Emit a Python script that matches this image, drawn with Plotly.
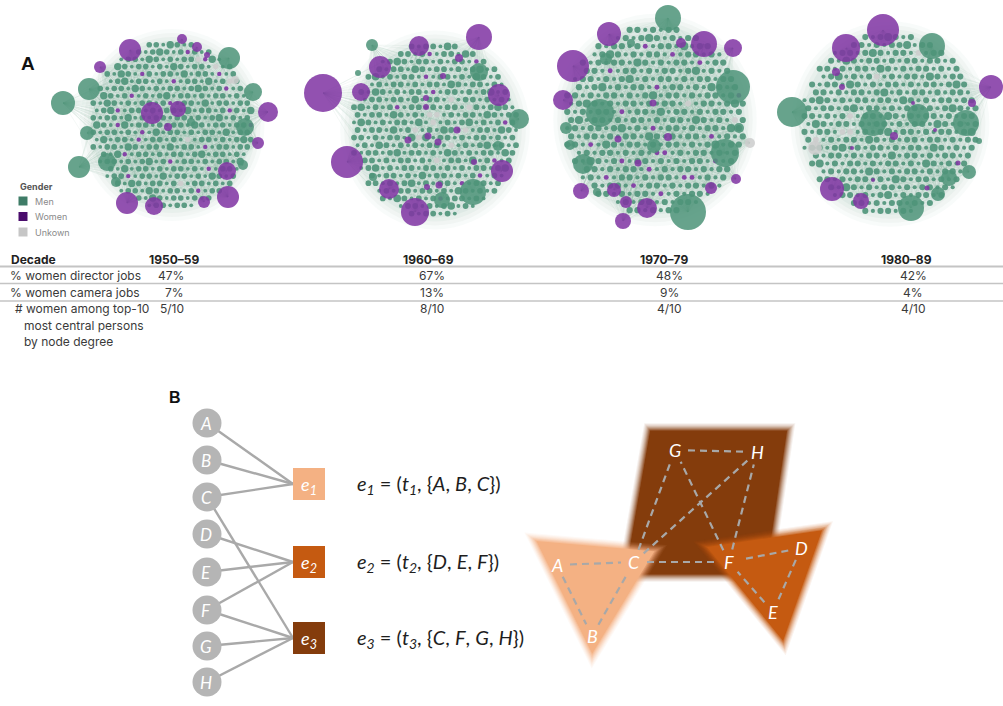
import math
import plotly.graph_objects as go

W, H = 1003, 706

# ---------------------------------------------------------------- table data
decades = ["1950–59", "1960–69", "1970–79", "1980–89"]
women_director_pct = [47, 67, 48, 42]
women_camera_pct = [7, 13, 9, 4]
women_top10 = [5, 8, 4, 4]

# ---------------------------------------------------------------- networks
# dense core of each decade network, one string per row of the packed layout
# o = man, O = man (higher degree), * = man (low degree), p/P = woman, u = unknown
core_1950 = [
    "oo*Oo*o",
    "o*oOo*opo*o",
    "*oo*Oo*o*ooupO*",
    "Oo*oo*o*Oo*oo*u*o",
    "o*Oo*po*oo*O*oo*p*o",
    "*oO*oo*o*p*oo*O*ouo",
    "o*oo*Oo*o*oo*oOo*op*o",
    "Oo*op*o*oO*oo*o*oo*o*",
    "o*Oo*o*oo*op*oo*O*oo*oo",
    "*oOp*oo*o*oo*O*oo*opo*O",
    "o*oo*O*o*oo*oo*o*oO*o*o",
    "Oo*pO*oo*o*oo*Oo*oo*oop",
    "o*oo*o*p*O*oo*o*oo*O*oo",
    "*O*oo*p*oo*o*u*oo*o*oOo",
    "o*oo*Oo*oo*O*oo*p*oo*oo",
    "o*Op*oo*o*oo*oO*oo*o*",
    "*oo*o*oO*op*oo*o*oo*O",
    "o*O*oo*o*oo*o*p*oo*",
    "*oop*oo*O*oo*o*Oo*o",
    "o*Oo*oo*ou*oo*o*o",
    "*oo*Oo*oo*op*oo",
    "o*Oo*oo*o*o",
    "*oo*oo*",
]
core_1960 = [
    "o*oo*Oo",
    "oo*op*oo*Oo",
    "*oOo*oo*o*oo*po",
    "o*oo*Oo*oo*o*oO*o",
    "oO*o*oo*p*oo*o*Oo*o",
    "*o*oo*o*oo*Oo*oo*o*",
    "o*Oo*o*oo*p*oo*o*oO*o",
    "*oo*oo*O*oo*u*oo*o*o*",
    "oO*o*op*oo*o*oo*uo*oOo*",
    "o*oo*Oo*o*uu*o*oo*Oo*oo",
    "*Oo*o*oo*O*u*o*oO*o*opo",
    "o*oo*O*ou*o*Oo*u*oo*Oo*",
    "oo*o*oo*OuO*oo*o*oo*o*o",
    "*o*Oo*o*o*oo*u*o*oO*o*o",
    "o*oo*oO*oo*o*Oo*o*oo*Oo",
    "oo*o*oo*o*u*oo*O*op*o",
    "*oO*o*oo*oo*o*o*oo*oO",
    "o*oo*o*O*oo*o*op*o*",
    "oo*o*oO*o*oo*p*oo*o",
    "*o*oo*oo*o*Oo*o*o",
    "o*Oo*o*op*oo*o*",
    "*oo*o*oO*o*",
    "o*oo*o*",
]
core_1970 = [
    "oo*o*oo",
    "*o*oOo*o*oo",
    "o*oo*op*oo*O*oo",
    "*oOo*o*oo*p*oo*o*",
    "o*o*oo*Oo*o*oo*p*oo",
    "oo*p*oo*o*oo*oO*o*o",
    "*oo*o*oO*o*oo*o*oo*oo",
    "o*oO*o*oo*p*oo*o*Oo*o",
    "oo*o*oo*o*oO*oo*o*oo*op",
    "*oOo*o*oo*o*oo*u*oo*oOo",
    "o*o*oo*p*oo*O*oo*o*oo*o",
    "oO*oo*o*oo*o*oo*Oo*o*uo",
    "*o*oo*oO*o*p*oo*o*oo*Oo",
    "o*oo*o*oo*Oo*o*oo*p*o*o",
    "oo*p*Oo*oo*o*oo*o*oO*oo",
    "*o*oo*o*o*pp*o*oo*o*o",
    "o*Oo*op*oo*o*o*oo*p*o",
    "oo*o*oo*p*o*oo*o*oo",
    "*o*p*oo*o*oo*pp*o*o",
    "o*oo*p*oo*o*oo*o*",
    "oo*o*oo*p*o*oo*",
    "*o*oo*o*oo*",
    "oo*o*oo",
]
core_1980 = [
    "o*oOo*o",
    "oo*o*ooO*oo",
    "*oo*oOo*oo*u*oo",
    "o*Oo*oo*o*oo*oo*o",
    "oo*o*oo*Oo*o*oo*o*o",
    "*oO*o*ou*o*oo*Oo*oo",
    "o*oo*Oo*o*oo*o*oo*oOo",
    "oo*o*oo*oO*o*oo*o*oo*",
    "*oOo*o*oo*oo*Oo*o*oo*oo",
    "o*oo*oO*oo*o*oo*o*oOo*o",
    "oo*o*ou*oo*Oo*o*oo*o*oo",
    "*Oo*oo*o*oo*o*oo*Oo*o*o",
    "o*oo*uu*o*oO*oo*o*oo*oO",
    "ou*o*oo*Oo*o*oo*oo*o*oo",
    "*oo*oO*o*oo*o*oo*Oo*o*o",
    "o*oo*o*oo*O*oo*o*oo*o",
    "oO*o*oo*o*oo*o*Oo*o*o",
    "*o*oo*Oo*o*oo*o*oo*",
    "oo*o*oo*o*Oo*oo*o*o",
    "o*Oo*o*oo*o*oo*o*",
    "*oo*o*oO*o*oo*o",
    "oo*o*oo*o*o",
    "o*oo*o*",
]

# high-degree persons: (x, y, radius, gender)
hubs_1950 = [
    (130, 50, 11, "W"), (100, 67, 6, "W"), (182, 39, 5, "W"), (197, 47, 5, "W"),
    (207, 55, 3, "W"), (229, 58, 11, "M"), (235, 80, 4, "U"), (253, 92, 9, "M"),
    (268, 112, 10, "W"), (245, 127, 9, "M"), (258, 143, 6, "W"), (243, 165, 5, "M"),
    (227, 171, 9, "W"), (228, 197, 11, "W"), (204, 202, 6, "W"), (154, 206, 9, "W"),
    (127, 203, 11, "W"), (116, 182, 5, "M"), (107, 162, 9, "M"), (79, 167, 11, "M"),
    (87, 133, 7, "M"), (63, 103, 12, "M"), (89, 89, 11, "M"), (152, 113, 11, "W"),
    (178, 109, 8, "W"), (168, 127, 4, "W"), (191, 122, 4, "M"),
]
hubs_1960 = [
    (323, 93, 19, "W"), (361, 92, 9, "W"), (380, 67, 11, "W"), (372, 45, 6, "M"),
    (419, 46, 10, "W"), (479, 37, 13, "W"), (459, 58, 4, "W"), (479, 72, 9, "M"),
    (358, 73, 3, "M"), (499, 95, 11, "W"), (519, 119, 10, "M"), (347, 162, 16, "W"),
    (502, 171, 11, "W"), (473, 192, 13, "M"), (389, 189, 10, "W"), (442, 200, 8, "M"),
    (415, 212, 14, "W"), (498, 146, 5, "M"), (373, 177, 4, "M"),
    (408, 140, 3.5, "W"), (428, 136, 3.5, "W"), (438, 142, 3.5, "W"), (457, 130, 3.5, "W"),
    (426, 98, 3, "W"), (426, 107, 3, "W"), (443, 76, 3, "W"), (474, 162, 3, "W"),
    (439, 185, 3.5, "W"), (427, 187, 3, "W"),
]
hubs_1970 = [
    (668, 18, 13, "M"), (609, 34, 12, "W"), (573, 66, 16, "W"), (681, 43, 5, "W"),
    (704, 44, 13, "W"), (733, 48, 9, "W"), (733, 87, 17, "M"), (563, 100, 10, "W"),
    (600, 113, 14, "M"), (606, 59, 6, "M"), (631, 43, 4, "M"), (725, 153, 14, "M"),
    (750, 143, 5, "U"), (739, 128, 5, "M"), (566, 128, 6, "M"), (570, 145, 5, "M"),
    (583, 164, 10, "M"), (654, 146, 7, "M"), (653, 103, 3.5, "W"), (668, 137, 4, "W"),
    (618, 139, 3.5, "W"), (638, 163, 3.5, "W"), (581, 191, 8, "W"), (597, 192, 4, "M"),
    (614, 190, 7, "W"), (626, 202, 6, "W"), (647, 208, 10, "W"), (623, 221, 8, "W"),
    (688, 212, 18, "M"), (711, 188, 6, "W"), (736, 179, 5, "W"),
]
hubs_1980 = [
    (883, 30, 16, "W"), (846, 48, 14, "W"), (932, 46, 13, "M"), (991, 87, 12, "W"),
    (792, 112, 15, "M"), (873, 123, 13, "M"), (918, 115, 11, "M"), (966, 123, 13, "M"),
    (894, 136, 4, "W"), (836, 72, 4, "W"), (842, 87, 3, "W"), (972, 103, 4, "W"),
    (815, 148, 7, "U"), (979, 141, 3, "M"), (949, 178, 8, "M"), (969, 172, 7, "M"),
    (832, 189, 12, "W"), (861, 201, 8, "W"), (911, 208, 13, "M"), (938, 194, 7, "M"),
    (958, 163, 2.5, "W"), (927, 188, 2.5, "W"), (935, 130, 2, "W"), (852, 148, 2, "W"),
    (873, 180, 2, "W"), (913, 103, 2, "W"),
]

# (core rows, hubs, core centre x, centre y, column step, row step)
networks = [
    (core_1950, hubs_1950, 172, 125, 7.0, 7.3),
    (core_1960, hubs_1960, 435, 130, 7.2, 7.6),
    (core_1970, hubs_1970, 655, 120, 7.8, 8.2),
    (core_1980, hubs_1980, 890, 124, 7.6, 7.9),
]

# ---------------------------------------------------------------- hypergraph data
persons = ["A", "B", "C", "D", "E", "F", "G", "H"]
hyperedges = ["e1", "e2", "e3"]
members = {"e1": ["A", "B", "C"], "e2": ["D", "E", "F"], "e3": ["C", "F", "G", "H"]}
edge_times = {"e1": "t1", "e2": "t2", "e3": "t3"}

# ---------------------------------------------------------------- styles
GREEN = "rgba(78,148,121,{})"
PURPLE = "rgba(128,52,163,{})"
GREY = "rgba(205,205,205,{})"
GCOL = {"M": GREEN, "W": PURPLE, "U": GREY}
CORE_STYLE = {
    "o": ("M", 5.6), "O": ("M", 7.4), "*": ("M", 3.8),
    "p": ("W", 4.4), "P": ("W", 6.2), "u": ("U", 5.4),
}
EDGE_COLORS = {"e1": "#F4B183", "e2": "#C55A11", "e3": "#843C0C"}
TXT = "#3a3a3a"

fig = go.Figure()
shapes = []
annotations = []


def ann(x, y, text, size=12, color=TXT, family="Inter", xanchor="center", bold=False, **kw):
    if bold:
        text = f"<b>{text}</b>"
    annotations.append(dict(x=x, y=y, xref="x", yref="y", text=text, showarrow=False,
                            xanchor=xanchor, yanchor="middle",
                            font=dict(size=size, color=color, family=family), **kw))


# ---------------------------------------------------------------- panel A networks
for rows, hubs, cx, cy, dx, dy in networks:
    scale = dx / 7.0
    # edge haze behind the dense core
    rx, ry = 11.5 * dx, 11.5 * dy
    for grow, alpha in [(12, 0.12), (8, 0.15), (4, 0.2), (0, 0.3)]:
        shapes.append(dict(type="circle", xref="x", yref="y", layer="below",
                           x0=cx - rx - grow, x1=cx + rx + grow,
                           y0=cy - ry - grow, y1=cy + ry + grow,
                           fillcolor=f"rgba(200,218,211,{alpha})", line=dict(width=0)))

    pts = []
    n = len(rows)
    for i, row in enumerate(rows):
        y = cy + (i - (n - 1) / 2) * dy
        shift = dx / 4 if i % 2 else -dx / 4
        for j, ch in enumerate(row):
            if ch not in CORE_STYLE:
                continue
            x = cx + (j - (len(row) - 1) / 2) * dx + shift
            g, s = CORE_STYLE[ch]
            pts.append((x, y, g, s * scale))

    # links from high-degree persons into the core
    ex, ey = [], []
    for k, (hx, hy, hr, hg) in enumerate(hubs):
        if hr < 5:
            continue
        for j, (px, py, _, _) in enumerate(pts):
            if (j + 4 * k) % 9 == 0:
                ex += [hx, px, None]
                ey += [hy, py, None]
    fig.add_trace(go.Scatter(x=ex, y=ey, mode="lines", hoverinfo="skip",
                             line=dict(color="rgba(105,155,135,0.13)", width=0.6)))

    fig.add_trace(go.Scatter(
        x=[p[0] for p in pts], y=[p[1] for p in pts], mode="markers", hoverinfo="skip",
        marker=dict(size=[p[3] for p in pts], opacity=1,
                    color=[GCOL[p[2]].format(0.9) for p in pts], line=dict(width=0))))

    hs = sorted(hubs, key=lambda h: -h[2])
    fig.add_trace(go.Scatter(
        x=[h[0] for h in hs], y=[h[1] for h in hs], mode="markers", hoverinfo="skip",
        marker=dict(size=[2 * h[2] for h in hs], opacity=1,
                    color=[GCOL[h[3]].format(0.86) for h in hs], line=dict(width=0))))

# panel label and gender key
ann(28, 63, "A", size=19, color="#111", family="Arial", bold=True)
ann(18, 186, "Gender", size=9, color="#555", family="Inter", xanchor="left", bold=True)
key = [("Men", "#3f7c67", 201), ("Women", "#4a0c6c", 216.5), ("Unkown", "#c6c6c6", 232)]
fig.add_trace(go.Scatter(x=[23] * 3, y=[k[2] for k in key], mode="markers", hoverinfo="skip",
                         marker=dict(symbol="square", size=9, color=[k[1] for k in key],
                                     opacity=1, line=dict(width=0))))
for name, _, ky in key:
    ann(33, ky, name, size=9, color="#8a8a8a", family="Inter", xanchor="left")

# ---------------------------------------------------------------- table
col_x = [174, 428, 664, 906]
val_x = [186, 432, 669, 913]
ann(9, 259, "Decade", size=12, color="#222", xanchor="left", bold=True)
for cxx, d in zip(col_x, decades):
    ann(cxx, 259, d, size=12, color="#222", bold=True)

row_labels = ["% women director jobs", "% women camera jobs"]
row_vals = [[f"{v}%" for v in women_director_pct], [f"{v}%" for v in women_camera_pct]]
for ry_, lab, vals in zip([275, 292], row_labels, row_vals):
    ann(8, ry_, lab, size=12, xanchor="left")
    for k, (vx, v) in enumerate(zip(val_x, vals)):
        ann(vx, ry_, v, size=12, xanchor="right" if k == 0 else "center")
ann(13, 308, "# women among top-10", size=12, xanchor="left")
ann(22, 325, "most central persons", size=12, xanchor="left")
ann(22, 341, "by node degree", size=12, xanchor="left")
for k, (vx, v) in enumerate(zip(val_x, women_top10)):
    ann(vx, 308, f"{v}/10", size=12, xanchor="right" if k == 0 else "center")

for ly, lw in [(266.5, 2.2), (283.5, 1.4), (301, 1.4)]:
    shapes.append(dict(type="line", xref="x", yref="y", x0=0, x1=W, y0=ly, y1=ly,
                       line=dict(color="#c4c4c4", width=lw)))

# ---------------------------------------------------------------- panel B: bipartite view
ann(175, 397, "B", size=16, color="#111", family="Arial", bold=True)
person_y = dict(zip(persons, [423, 460, 497, 534, 572, 610, 646, 682]))
edge_y = dict(zip(hyperedges, [484, 562, 638]))
PX, EX, ES = 207, 309, 32

bx, by = [], []
for e in hyperedges:
    for p in members[e]:
        bx += [PX, EX - ES / 2, None]
        by += [person_y[p], edge_y[e], None]
fig.add_trace(go.Scatter(x=bx, y=by, mode="lines", hoverinfo="skip",
                         line=dict(color="#a9a9a9", width=2.4)))
fig.add_trace(go.Scatter(
    x=[PX] * len(persons), y=[person_y[p] for p in persons], mode="markers",
    hoverinfo="skip", marker=dict(size=29, color="#b5b5b5", opacity=1, line=dict(width=0))))
for p in persons:
    ann(PX - 1, person_y[p], f"<i>{p}</i>", size=17, color="white", family="Lato")
fig.add_trace(go.Scatter(
    x=[EX] * 3, y=[edge_y[e] for e in hyperedges], mode="markers", hoverinfo="skip",
    marker=dict(symbol="square", size=ES, color=[EDGE_COLORS[e] for e in hyperedges],
                opacity=1, line=dict(width=0))))
for e in hyperedges:
    ann(EX, edge_y[e] + 1, f"<i>e<sub>{e[1]}</sub></i>", size=18, color="white", family="Lato")
    who = ", ".join(f"<i>{p}</i>" for p in members[e])
    t = edge_times[e]
    ann(355, edge_y[e], f"<i>e<sub>{e[1]}</sub></i> = (<i>t<sub>{t[1]}</sub></i>, {{{who}}})",
        size=20, color="#1e1e1e", family="Lato", xanchor="left")

# ---------------------------------------------------------------- panel B: hypergraph view
hyper_shapes = {
    "e3": [(648, 428), (790, 428), (768, 577), (622, 577)],
    "e1": [(532, 538), (659, 549), (592, 659)],
    "e2": [(702, 545), (826, 527), (784, 646)],
}


def inradius(poly, c):
    best = 1e9
    for (x1, y1), (x2, y2) in zip(poly, poly[1:] + poly[:1]):
        num = abs((y2 - y1) * c[0] - (x2 - x1) * c[1] + x2 * y1 - y2 * x1)
        best = min(best, num / math.hypot(x2 - x1, y2 - y1))
    return best


for e in ["e3", "e1", "e2"]:
    poly = hyper_shapes[e]
    c = (sum(p[0] for p in poly) / len(poly), sum(p[1] for p in poly) / len(poly))
    rin = inradius(poly, c)
    soft = [(4.5, 0.07), (3.5, 0.09), (2.5, 0.12), (1.5, 0.16), (0.5, 0.22),
            (-0.5, 0.3), (-1.5, 0.45), (-2.5, 1.0)]
    for off, op in soft:
        s = 1 + off / rin
        path = "M " + " L ".join(f"{c[0] + (x - c[0]) * s:.1f},{c[1] + (y - c[1]) * s:.1f}"
                                 for x, y in poly) + " Z"
        shapes.append(dict(type="path", xref="x", yref="y", layer="below", path=path,
                           fillcolor=EDGE_COLORS[e], opacity=op, line=dict(width=0)))

node_pos = {"A": (557, 565), "B": (592, 636), "C": (634, 562), "D": (801, 548),
            "E": (773, 612), "F": (729, 562), "G": (675, 450), "H": (757, 452)}
dx_, dy_ = [], []
for e in hyperedges:
    m = members[e]
    for i in range(len(m)):
        for j in range(i + 1, len(m)):
            (x1, y1), (x2, y2) = node_pos[m[i]], node_pos[m[j]]
            L = math.hypot(x2 - x1, y2 - y1)
            ux, uy = (x2 - x1) / L, (y2 - y1) / L
            g = 13
            dx_ += [x1 + ux * g, x2 - ux * g, None]
            dy_ += [y1 + uy * g, y2 - uy * g, None]
fig.add_trace(go.Scatter(x=dx_, y=dy_, mode="lines", hoverinfo="skip",
                         line=dict(color="#a8a8a8", width=2.2, dash="7px,5px")))
for p, (x, y) in node_pos.items():
    ann(x, y, f"<i>{p}</i>", size=18, color="white", family="Lato")

# ---------------------------------------------------------------- layout
fig.update_layout(
    width=W, height=H, margin=dict(l=0, r=0, t=0, b=0),
    paper_bgcolor="white", plot_bgcolor="white", showlegend=False,
    xaxis=dict(range=[0, W], visible=False, fixedrange=True),
    yaxis=dict(range=[H, 0], visible=False, fixedrange=True),
    shapes=shapes, annotations=annotations,
)
fig.write_html("out.html", config={"displayModeBar": False})
